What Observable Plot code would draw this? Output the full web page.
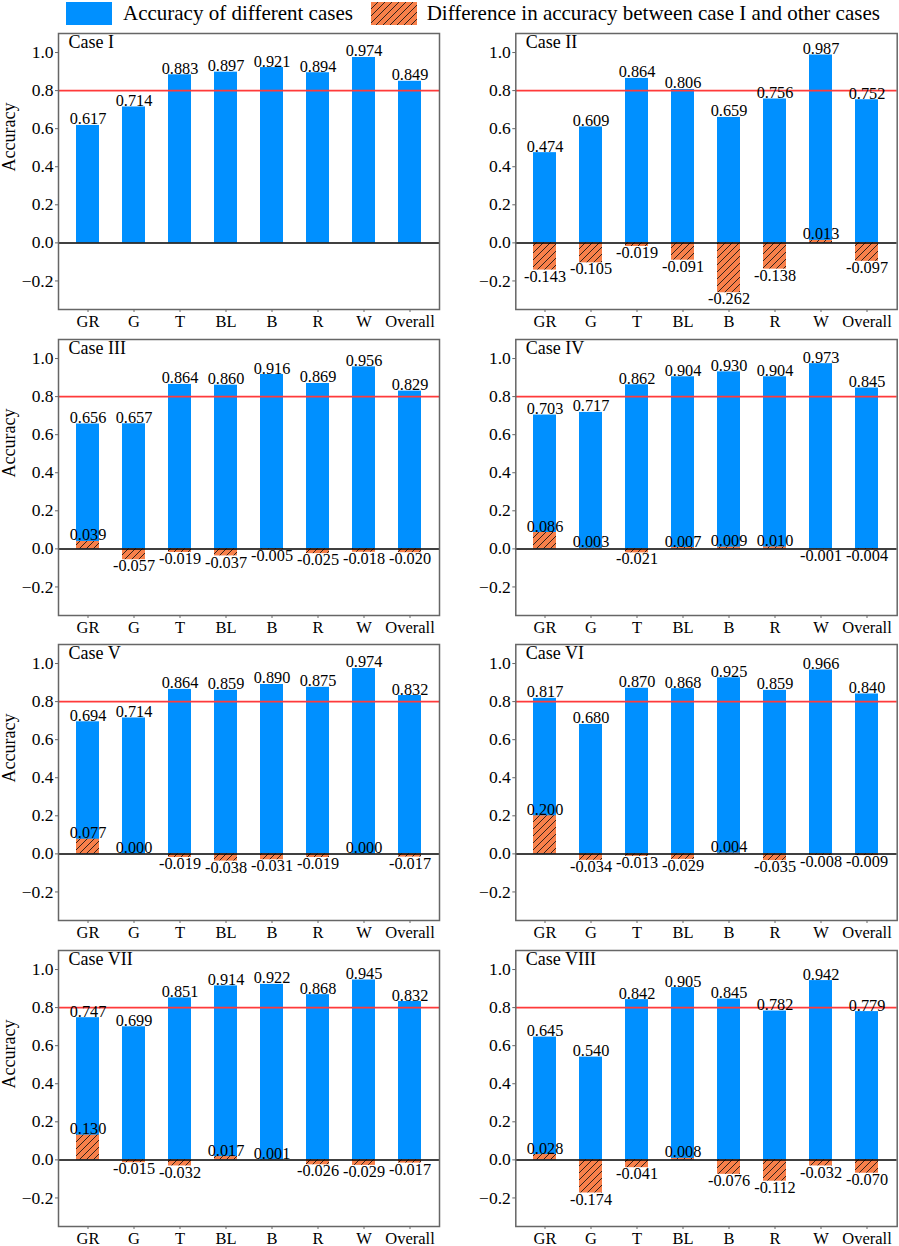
<!DOCTYPE html>
<html>
<head>
<meta charset="utf-8">
<script src="https://cdn.jsdelivr.net/npm/d3@7"></script>
<script src="https://cdn.jsdelivr.net/npm/@observablehq/plot@0.6"></script>
<style>
  html, body { margin: 0; padding: 0; background: #fff; }
  body { width: 899px; height: 1246px; position: relative; overflow: hidden;
         font-family: "Liberation Serif", "Times New Roman", serif; }
  .panel { position: absolute; }
  .legend-swatch { position: absolute; }
  .legend-text { position: absolute; font-size: 21px; line-height: 21px; white-space: nowrap; color: #000; }
</style>
</head>
<body>
<svg width="0" height="0" style="position:absolute">
  <defs>
    <pattern id="hatch" patternUnits="userSpaceOnUse" width="7" height="7">
      <rect width="7" height="7" fill="#f8804a"></rect>
      <path d="M0,7 L7,0 M-1.75,1.75 L1.75,-1.75 M5.25,8.75 L8.75,5.25" stroke="#111" stroke-width="0.85"></path>
    </pattern>
  </defs>
</svg>
<div id="legend"></div>
<div id="charts"></div>
<script>
const categories = ["GR", "G", "T", "BL", "B", "R", "W", "Overall"];
const caseNames = ["Case I", "Case II", "Case III", "Case IV", "Case V", "Case VI", "Case VII", "Case VIII"];

const accI    = [0.617, 0.714, 0.883, 0.897, 0.921, 0.894, 0.974, 0.849];
const accII   = [0.474, 0.609, 0.864, 0.806, 0.659, 0.756, 0.987, 0.752];
const accIII  = [0.656, 0.657, 0.864, 0.860, 0.916, 0.869, 0.956, 0.829];
const accIV   = [0.703, 0.717, 0.862, 0.904, 0.930, 0.904, 0.973, 0.845];
const accV    = [0.694, 0.714, 0.864, 0.859, 0.890, 0.875, 0.974, 0.832];
const accVI   = [0.817, 0.680, 0.870, 0.868, 0.925, 0.859, 0.966, 0.840];
const accVII  = [0.747, 0.699, 0.851, 0.914, 0.922, 0.868, 0.945, 0.832];
const accVIII = [0.645, 0.540, 0.842, 0.905, 0.845, 0.782, 0.942, 0.779];

const diffI    = null;
const diffII   = [-0.143, -0.105, -0.019, -0.091, -0.262, -0.138, 0.013, -0.097];
const diffIII  = [0.039, -0.057, -0.019, -0.037, -0.005, -0.025, -0.018, -0.020];
const diffIV   = [0.086, 0.003, -0.021, 0.007, 0.009, 0.010, -0.001, -0.004];
const diffV    = [0.077, 0.000, -0.019, -0.038, -0.031, -0.019, 0.000, -0.017];
const diffVI   = [0.200, -0.034, -0.013, -0.029, 0.004, -0.035, -0.008, -0.009];
const diffVII  = [0.130, -0.015, -0.032, 0.017, 0.001, -0.026, -0.029, -0.017];
const diffVIII = [0.028, -0.174, -0.041, 0.008, -0.076, -0.112, -0.032, -0.070];

const yTicks = [-0.2, 0.0, 0.2, 0.4, 0.6, 0.8, 1.0];
const threshold = 0.8;
const legendLabels = ["Accuracy of different cases", "Difference in accuracy between case I and other cases"];

const accs = [accI, accII, accIII, accIV, accV, accVI, accVII, accVIII];
const diffs = [diffI, diffII, diffIII, diffIV, diffV, diffVI, diffVII, diffVIII];

const FONT = '"Liberation Serif", "Times New Roman", serif';
const BLUE = "#0090ff";

// Legend
const legend = document.getElementById("legend");
legend.innerHTML = `
  <div class="legend-swatch" style="left:65.7px;top:1.7px;width:46px;height:23px;background:${BLUE}"></div>
  <div class="legend-text" style="left:123px;top:3px">${legendLabels[0]}</div>
  <svg class="legend-swatch" style="left:370.7px;top:1.7px" width="46" height="23"><rect width="46" height="23" fill="url(#hatch)"></rect></svg>
  <div class="legend-text" style="left:426.7px;top:3px">${legendLabels[1]}</div>
`;

const charts = document.getElementById("charts");

accs.forEach((acc, i) => {
  const col = i % 2, row = Math.floor(i / 2);
  const data = categories.map((c, j) => ({cat: c, acc: acc[j], diff: diffs[i] ? diffs[i][j] : null}));
  const dd = diffs[i] ? data : [];
  const marks = [
    Plot.barY(data, {x: "cat", y1: 0, y2: "acc", fill: BLUE}),
    Plot.barY(dd, {x: "cat", y1: 0, y2: "diff", fill: "url(#hatch)"}),
    Plot.ruleY([threshold], {stroke: "#ff3a3a", strokeWidth: 1.6}),
    Plot.ruleY([0], {stroke: "#000", strokeWidth: 1.5}),
    Plot.text(data, {x: "cat", y: "acc", text: d => d.acc.toFixed(3), lineAnchor: "bottom", dy: -1, fontSize: 16.3, fill: "#000"}),
    Plot.text(dd.filter(d => d.diff >= 0), {x: "cat", y: "diff", text: d => d.diff.toFixed(3), lineAnchor: "bottom", dy: -1, fontSize: 16.3, fill: "#000"}),
    Plot.text(dd.filter(d => d.diff < 0), {x: "cat", y: "diff", text: d => d.diff.toFixed(3), lineAnchor: "top", dy: 0, fontSize: 16.3, fill: "#000"}),
    Plot.text([caseNames[i]], {frameAnchor: "top-left", dx: 10, dy: 2, fontSize: 18, fill: "#000"}),
    Plot.frame({stroke: "#666", strokeWidth: 1.5}),
    Plot.axisY({ticks: yTicks, tickSize: 3, tickPadding: 2, fontSize: 17.5, label: null, stroke: "#666",
      tickFormat: d => (d < 0 ? "\u2212" : "") + Math.abs(d).toFixed(1)}),
    Plot.axisX({tickSize: 3, tickPadding: 3, fontSize: 16.5, label: null, stroke: "#666"})
  ];
  if (col === 0) {
    marks.push(Plot.text(["Accuracy"], {frameAnchor: "left", rotate: -90, dx: -49, fontSize: 18, fill: "#000"}));
  }
  const plot = Plot.plot({
    width: 449,
    height: 306,
    marginLeft: col === 0 ? 58 : 65.3,
    marginRight: col === 0 ? 10 : 2.3,
    marginTop: 5,
    marginBottom: 25,
    style: {fontFamily: FONT, color: "#000", background: "transparent", overflow: "visible"},
    x: {type: "band", domain: categories, paddingInner: 0.49, paddingOuter: 0.385},
    y: {domain: [-0.35, 1.1]},
    marks
  });
  const div = document.createElement("div");
  div.className = "panel";
  div.style.left = (col === 0 ? 0 : 450) + "px";
  div.style.top = (28 + row * 305.7) + "px";
  div.appendChild(plot);
  charts.appendChild(div);
});
</script>
</body>
</html>
